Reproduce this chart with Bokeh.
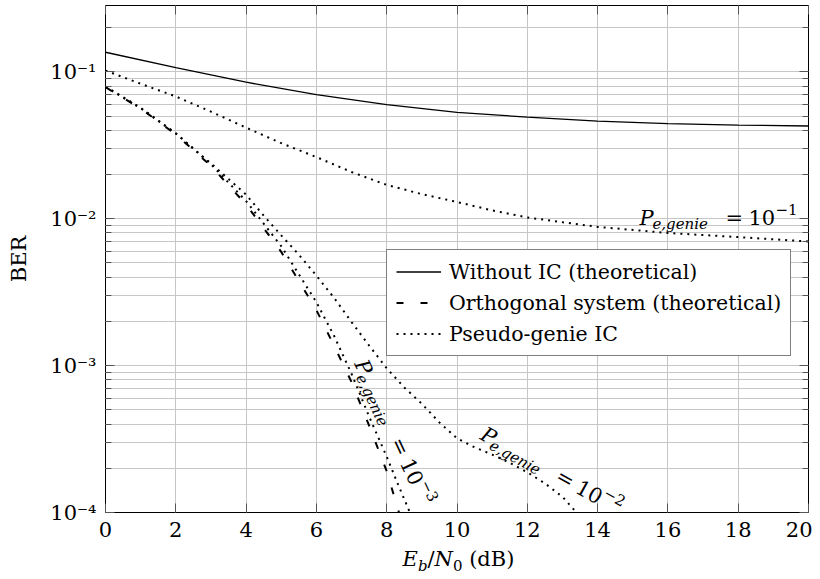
import math
from bokeh.plotting import figure
from bokeh.layouts import column
from bokeh.models import (FixedTicker, LogAxis, LinearAxis, Legend, LegendItem,
                          Label, Range1d, Div)
from bokeh.embed import file_html
from bokeh.resources import INLINE

# ---------------- data ----------------
x_without = [0, 2, 4, 6, 8, 10, 12, 14, 16, 18, 20]
ber_without = [0.136, 0.107, 0.085, 0.070, 0.0598, 0.053, 0.0492, 0.0462, 0.0444, 0.0434, 0.0428]

x_orth = [0, 1, 2, 3, 4, 5, 6, 6.5, 7, 7.5, 8, 8.35]
ber_orth = [0.0786, 0.0563, 0.0375, 0.0229, 0.0125, 0.00595, 0.00239, 0.00137,
            0.000773, 0.00039, 0.000191, 0.0001]

x_g1 = [0, 1, 2, 3, 4, 5, 6, 7, 8, 9, 10, 11, 12, 14, 16, 18, 20]
ber_g1 = [0.102, 0.083, 0.068, 0.0536, 0.0417, 0.0327, 0.0263, 0.0208, 0.0170, 0.0147,
          0.0130, 0.0114, 0.0102, 0.0088, 0.0080, 0.0075, 0.0070]

x_g2 = [0, 1, 2, 3, 4, 4.5, 5, 5.5, 6, 6.5, 7, 7.5, 8, 8.5, 9, 9.5, 10, 10.5, 11,
        11.5, 12, 12.5, 13, 13.4]
ber_g2 = [0.079, 0.0565, 0.038, 0.0238, 0.0146, 0.0105, 0.0077, 0.0057, 0.0041, 0.0029,
          0.00198, 0.00137, 0.00096, 0.00071, 0.00055, 0.00041, 0.00032, 0.000278,
          0.000248, 0.000218, 0.000188, 0.000158, 0.000128, 0.0001]

x_g3 = [0, 1, 2, 3, 4, 5, 6, 6.5, 7, 7.5, 8, 8.3, 8.66]
ber_g3 = [0.0795, 0.057, 0.0382, 0.0235, 0.0132, 0.0065, 0.0027, 0.0016, 0.00088,
          0.00045, 0.00024, 0.00016, 0.0001]

x_ticks = [0, 2, 4, 6, 8, 10, 12, 14, 16, 18, 20]
y_ticks = [1e-4, 1e-3, 1e-2, 1e-1]
y_tick_labels = ["10\u207b\u2074", "10\u207b\u00b3", "10\u207b\u00b2", "10\u207b\u00b9"]
y_minor = [m * 10.0 ** e for e in range(-4, 0) for m in range(2, 10) if m * 10.0 ** e < 0.283]

legend_labels = ["Without IC (theoretical)", "Orthogonal system (theoretical)", "Pseudo-genie IC"]

FONT = "DejaVu Serif"
GRID = "#c6c6c6"
TICK = "#555555"

p = figure(width=812, height=547, x_range=Range1d(0, 20), y_range=Range1d(1e-4, 0.283),
           y_axis_type="log", output_backend="svg", toolbar_location=None,
           min_border_left=105, min_border_right=4, min_border_top=5, min_border_bottom=35)
p.background_fill_color = "white"
p.border_fill_color = "white"
p.outline_line_color = "black"
p.outline_line_width = 1

# grids
p.xgrid.ticker = FixedTicker(ticks=x_ticks, minor_ticks=[])
p.ygrid.ticker = FixedTicker(ticks=y_ticks, minor_ticks=y_minor)
p.xgrid.grid_line_color = GRID
p.ygrid.grid_line_color = GRID
p.ygrid.minor_grid_line_color = GRID
p.xgrid.grid_line_width = 1
p.ygrid.grid_line_width = 1

def style_axis(ax):
    ax.axis_line_color = None
    ax.major_tick_in = 9
    ax.major_tick_out = 0
    ax.minor_tick_in = 6
    ax.minor_tick_out = 0
    ax.major_tick_line_color = TICK
    ax.minor_tick_line_color = TICK
    ax.major_label_text_font = FONT
    ax.major_label_text_font_size = "21px"
    ax.major_label_text_color = "black"

xa = p.xaxis[0]
xa.ticker = FixedTicker(ticks=x_ticks, minor_ticks=[])
style_axis(xa)
xa.major_label_standoff = 9
xa.axis_label = None

ya = p.yaxis[0]
ya.ticker = FixedTicker(ticks=y_ticks, minor_ticks=y_minor)
style_axis(ya)
ya.major_label_overrides = {t: s for t, s in zip(y_ticks, y_tick_labels)}
ya.major_label_standoff = 9
ya.axis_label = "BER"
ya.axis_label_text_font = FONT
ya.axis_label_text_font_size = "21px"
ya.axis_label_text_font_style = "normal"
ya.axis_label_text_color = "black"
ya.axis_label_standoff = 16

top_ax = LinearAxis(ticker=FixedTicker(ticks=x_ticks, minor_ticks=[]))
style_axis(top_ax)
top_ax.major_label_overrides = {t: "" for t in x_ticks}
top_ax.major_label_text_font_size = "0px"
top_ax.major_label_standoff = 0
p.add_layout(top_ax, "above")

right_ax = LogAxis(ticker=FixedTicker(ticks=y_ticks, minor_ticks=y_minor))
style_axis(right_ax)
right_ax.major_label_overrides = {t: "" for t in y_ticks}
right_ax.major_label_text_font_size = "0px"
right_ax.major_label_standoff = 0
p.add_layout(right_ax, "right")

# curves
DOT = "2 5"
r_wo = p.line(x_without, ber_without, line_color="black", line_width=1.3)
r_or = p.line(x_orth, ber_orth, line_color="black", line_width=2.0, line_dash="7 17")
r_g1 = p.line(x_g1, ber_g1, line_color="black", line_width=2.0, line_dash=DOT)
r_g2 = p.line(x_g2, ber_g2, line_color="black", line_width=2.0, line_dash=DOT)
r_g3 = p.line(x_g3, ber_g3, line_color="black", line_width=2.0, line_dash=DOT)

legend = Legend(items=[LegendItem(label=legend_labels[0], renderers=[r_wo]),
                       LegendItem(label=legend_labels[1], renderers=[r_or]),
                       LegendItem(label=legend_labels[2], renderers=[r_g1])],
                location=(281, 156))
legend.border_line_color = "black"
legend.border_line_width = 1
legend.background_fill_color = "white"
legend.background_fill_alpha = 1.0
legend.label_text_font = FONT
legend.label_text_font_size = "20.5px"
legend.label_text_color = "black"
legend.glyph_width = 45
legend.glyph_height = 25
legend.label_height = 25
legend.label_standoff = 8
legend.padding = 9
legend.spacing = 6
legend.margin = 0
p.add_layout(legend)

# composite math labels
def math_label(x, y, pieces, angle_deg=0.0):
    th = math.radians(angle_deg)
    for txt, size, style, a, s in pieces:
        xo = a * math.cos(th) - s * math.sin(th)
        yo = a * math.sin(th) + s * math.cos(th)
        p.add_layout(Label(x=x, y=y, x_offset=xo, y_offset=yo,
                           text=txt, angle=th, text_font=FONT, text_font_size=f"{size}px",
                           text_font_style=style, text_baseline="alphabetic",
                           text_align="left", text_color="black"))

def genie(exp):
    return [("P", 21, "italic", 0, 0),
            ("e,genie", 15, "italic", 13, -6),
            ("=", 21, "normal", 86, 0),
            ("10", 21, "normal", 109, 0),
            ("\u2212" + exp, 15, "normal", 136, 8)]

math_label(15.19, 0.01019, genie("1"))
math_label(7.25, 1.08e-3, genie("3"), angle_deg=-65)
math_label(10.72, 3.50e-4, genie("2"), angle_deg=-29)

# x axis label  E_b/N_0 (dB)
sub = "font-size:15px;position:relative;top:5px;"
xlabel_html = ('<i>E</i><span style="%sfont-style:italic">b</span>/<i>N</i>'
               '<span style="%s">0</span> (dB)') % (sub, sub)
div = Div(text=xlabel_html, width=707, height=32, margin=(0, 0, 0, 105),
          styles={"font-family": FONT, "font-size": "21px", "text-align": "center",
                  "color": "black", "line-height": "24px"})

layout = column(p, div, spacing=0)
open("out.html", "w").write(file_html(layout, INLINE))
